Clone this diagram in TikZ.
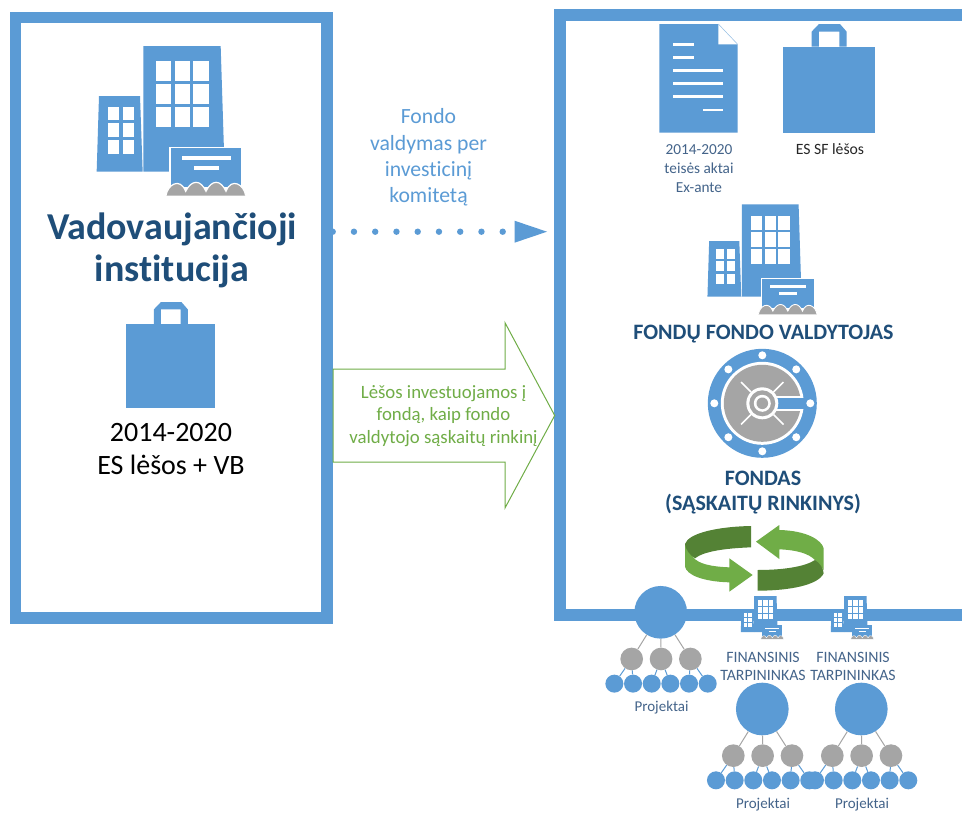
\documentclass[tikz,border=0pt]{standalone}
\usepackage{fontspec}
\setmainfont[Ligatures=NoCommon]{Carlito}
\definecolor{blu}{HTML}{5B9BD5}
\definecolor{gry}{HTML}{A5A5A5}
\definecolor{grn}{HTML}{70AD47}
\definecolor{dgrn}{HTML}{548235}
\definecolor{navy}{HTML}{1F4E79}
\definecolor{slate}{HTML}{44648A}
\newcommand{\fsz}[1]{\fontsize{#1}{#1}\selectfont}
\newcommand{\bldg}[3]{\begin{scope}[shift={(#1,#2)},scale=#3]
 \fill[blu] (190,48)--(422,48)--(434,425)--(190,425)--cycle;
 \fill[blu] (57,198)--(180,198)--(188,425)--(50,425)--cycle;
 \foreach \x/\w in {228/46,284/46,339/47}\foreach \y/\h in {94/60,163/59,232/60}
   \fill[white] (\x,\y) rectangle (\x+\w,\y+\h);
 \foreach \x in {83,128}\foreach \y in {230,280,331}
   \fill[white] (\x,\y) rectangle (\x+35,\y+41);
 \fill[white] (268,350) rectangle (490,470);
 \fill[blu] (272,355) rectangle (483,470);
 \fill[white] (305,378) rectangle (453,390);
 \fill[white] (342,408) rectangle (416,420);
 \fill[gry] (258,497) .. controls (262,465) and (300,440) .. (317,484)
   .. controls (335,448) and (362,448) .. (378,484)
   .. controls (395,448) and (422,448) .. (438,484)
   .. controls (455,440) and (493,465) .. (497,497) --cycle;
 \draw[white,line width=3.6*#3 pt] (258,497) .. controls (262,465) and (300,440) .. (317,484)
   .. controls (335,448) and (362,448) .. (378,484)
   .. controls (395,448) and (422,448) .. (438,484)
   .. controls (455,440) and (493,465) .. (497,497);
\end{scope}}
\newcommand{\bag}[3]{\begin{scope}[shift={(#1,#2)},scale=#3]
 \fill[blu] (0,68) rectangle (275,326);
 \fill[blu] (107,0)--(170,0)--(190,23)--(190,68)--(168,68)--(168,23)--(107,23)--(107,68)--(85,68)--(85,23)--cycle;
\end{scope}}
\newcommand{\treeat}[3]{\begin{scope}[shift={(#1,#2)},scale=1/3,
   bigc/.style={circle,fill=blu,minimum size=158/3*1pt,inner sep=0pt},
   gc/.style={circle,fill=gry,minimum size=68/3*1pt,inner sep=0pt},
   bc/.style={circle,fill=blu,minimum size=54/3*1pt,inner sep=0pt}]
 \node[bigc] (#3b) at (0,0) {};
 \node[gc] (#3g1) at (-87,140) {};
 \node[gc] (#3g2) at (1,140) {};
 \node[gc] (#3g3) at (89,140) {};
 \foreach \i/\dx in {1/-139,2/-83,3/-27,4/29,5/85,6/141}
   \node[bc] (#3p\i) at (\dx,214) {};
 \draw[gry,line width=1pt] (#3b)--(#3g1) (#3b)--(#3g2) (#3b)--(#3g3);
 \draw[blu,line width=1pt] (#3g1)--(#3p1) (#3g1)--(#3p2) (#3g2)--(#3p3) (#3g2)--(#3p4) (#3g3)--(#3p5) (#3g3)--(#3p6);
\end{scope}}
\begin{document}
\begin{tikzpicture}[x=1pt,y=-1pt,
  lbl/.style={align=center,inner sep=0pt},
  frm/.style={draw=blu,line width=11.5pt}]
\useasboundingbox (0,0) rectangle (962,812);
\fill[white] (0,0) rectangle (962,812);
% frames
\draw[frm] (15.5,17.5) rectangle (327,618);
\draw[blu,line width=12pt] (964,15)--(560,15)--(560,615)--(964,615);
% left building
\bldg{80}{30}{1/3}
\node[lbl,text=navy,font=\fsz{38}\bfseries] (vad) at (172,250) {Vadovaujančioji\\[4pt]institucija};
\bag{126.3}{302}{0.324}
\node[lbl,font=\fsz{28}] (sum) at (171,449) {2014-2020\\[5pt]ES lėšos + VB};
% dotted arrow
\node[lbl,text=blu,font=\fsz{21.7}] (txt1) at (428.5,157.5) {Fondo\\[4.5pt]valdymas per\\[4.5pt]investicinį\\[4.5pt]komitetą};
\foreach \i in {0,...,8} \fill[blu] (332.7+21.25*\i,231.7) circle (3.2);
\fill[blu] (514.5,220.7)--(547,231.7)--(514.5,242.7)--cycle;
% green arrow
\draw[grn,line width=1pt,fill=white] (333,369)--(505,369)--(505,322.7)--(554.7,415.5)--(505,508)--(505,462)--(333,462)--cycle;
\node[lbl,text=grn,font=\fsz{18.8}] (txt2) at (443.5,416) {Lėšos investuojamos į\\[3.5pt]fondą, kaip fondo\\[3.5pt]valdytojo sąskaitų rinkinį};
% document
\begin{scope}[shift={(640,10)},scale=1/3]
 \fill[blu] (58,42)--(235,42)--(293,103)--(293,368)--(58,368)--cycle;
 \fill[white] (235,42)--(293,103)--(235,103)--cycle;
 \draw[blu!60,line width=.5pt] (235,42)--(293,103);
 \foreach \y/\a/\b in {103/100/161,142/100/161,181/100/250,221/100/250,260/100/250,300/190/250}
   \fill[white] (\a,\y-4) rectangle (\b,\y+4);
\end{scope}
\node[lbl,text=slate,font=\fsz{15.3}] (t3) at (699,168.5) {2014-2020\\[3.5pt]teisės aktai\\[3.5pt]Ex-ante};
\bag{783.3}{24}{1/3}
\node[lbl,text=black!85,font=\fsz{15.7}] (t4) at (830,149) {ES SF lėšos};
% middle building
\bldg{695.2}{192.5}{0.245}
\node[lbl,text=navy,font=\fsz{22}\bfseries] (t5) at (763.5,334) {FONDŲ FONDO VALDYTOJAS};
% vault
\begin{scope}[shift={(762.3,403.3)}]
 \fill[blu] (0,0) circle (54.5);
 \foreach \a in {0,45,...,315} \fill[white] (\a:48) circle (4);
 \fill[white] (0,0) circle (41.5);
 \fill[gry] (0,0) circle (38.5);
 \fill[white] (12,-7.5) rectangle (41,7.5);
 \fill[blu] (12,-5.7) rectangle (44,5.7);
 \foreach \a in {45,135,225,315} \draw[white,line width=1.6pt] (\a:16)--(\a:30);
 \fill[white] (0,0) circle (16);
 \fill[gry] (0,0) circle (13);
 \fill[white] (0,0) circle (8.5);
 \fill[gry] (0,0) circle (5.8);
\end{scope}
\node[lbl,text=navy,font=\fsz{22}\bfseries] (t6) at (763,492.5) {FONDAS\\[3.5pt](SĄSKAITŲ RINKINYS)};
% cycle arrows
\begin{scope}[shift={(640,340)},scale=1/3]
 \fill[grn] (135,612)--(135,680) .. controls (140,705) and (190,725) .. (268,727)--(268,755)--(338,705)--(268,655)--(268,682) .. controls (215,680) and (175,672) .. (160,652) -- cycle;
 \fill[dgrn] (333,558)--(333,622) .. controls (250,625) and (190,635) .. (165,655) .. controls (150,645) and (137,630) .. (135,612) .. controls (145,580) and (230,560) .. (333,558) --cycle;
 \fill[grn] (551,690)--(551,625) .. controls (545,600) and (500,572) .. (418,570)--(418,555)--(348,605)--(418,657)--(418,628) .. controls (470,630) and (505,640) .. (525,660)--cycle;
 \fill[dgrn] (353,752)--(353,690) .. controls (430,690) and (495,680) .. (525,660) .. controls (540,670) and (550,685) .. (551,700) .. controls (535,735) and (450,752) .. (353,752) --cycle;
\end{scope}
% trees
\treeat{660.7}{612.3}{ta}
\treeat{762.3}{709}{tb}
\treeat{861.3}{709}{tc}
\node[lbl,text=slate,font=\fsz{15}] (p1) at (661.5,708) {Projektai};
\node[lbl,text=slate,font=\fsz{15}] (p2) at (763,805) {Projektai};
\node[lbl,text=slate,font=\fsz{15}] (p3) at (862,805) {Projektai};
\bldg{736}{591.4}{0.096}
\bldg{826}{591.4}{0.096}
\node[lbl,text=slate,font=\fsz{15.8}] (f1) at (763,666.5) {FINANSINIS\\[3pt]TARPININKAS};
\node[lbl,text=slate,font=\fsz{15.8}] (f2) at (853,666.5) {FINANSINIS\\[3pt]TARPININKAS};
\end{tikzpicture}
\end{document}
